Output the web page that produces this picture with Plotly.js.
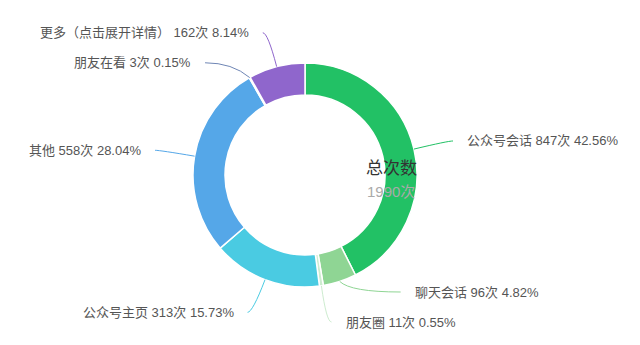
<!DOCTYPE html>
<html><head><meta charset="utf-8">
<script src="https://cdn.plot.ly/plotly-3.0.1.min.js"></script>
<style>html,body{margin:0;padding:0;background:#fff}#chart{width:640px;height:345px}</style>
</head><body><div id="chart"></div>
<script>
// ---- data ----
const categories = ['公众号会话', '聊天会话', '朋友圈', '公众号主页', '其他', '朋友在看', '更多（点击展开详情）'];
const counts = [847, 96, 11, 313, 558, 3, 162];
const unit = '次';
const centerTitle = '总次数';
const colors = ['#22c165', '#8fd594', '#cdeccf', '#4acbe2', '#55a7e8', '#6f86b5', '#8f66cc'];

// ---- geometry (layout constants, px) ----
const W = 640, H = 345;
const cx = 305, cy = 175, R = 112, R0 = 80;
const len1 = 35, len2 = 5, gap = 12, lineH = 30, minY = 15, maxY = 322;
const FONT = 'Liberation Sans, Noto Sans CJK SC, sans-serif';

const total = counts.reduce((a, b) => a + b, 0);
let acc = 0;
const items = counts.map((v, i) => {
  const mid = (acc + v / 2) / total * 2 * Math.PI; acc += v;
  const ux = Math.sin(mid), uy = -Math.cos(mid);
  const dir = ux < 0 ? -1 : 1;
  const p0 = [cx + R * ux, cy + R * uy];
  const p1 = [cx + (R + len1) * ux, cy + (R + len1) * uy];
  return { i, dir, p0, p1, y: p1[1], x: p1[0] + dir * len2 };
});

function recalcX(list, dir) {
  const rA = R + len1;
  const semis = [{ list: [], maxY: 0, rB: rA }, { list: [], maxY: 0, rB: rA }];
  list.forEach(it => {
    const semi = it.y > cy ? semis[1] : semis[0];
    const d = Math.abs(it.y - cy);
    if (d >= semi.maxY) {
      const ddx = it.x - cx - len2 * dir;
      semi.rB = Math.abs(ddx) < rA ? Math.sqrt(d * d / (1 - ddx * ddx / rA / rA)) : rA;
      semi.maxY = d;
    }
    semi.list.push(it);
  });
  semis.forEach(s => s.list.forEach(it => {
    const d = Math.abs(it.y - cy);
    const ddx = Math.sqrt(Math.max(0, 1 - d * d / (s.rB * s.rB))) * rA;
    it.x = cx + (ddx + len2) * dir;
  }));
}
function adjustSide(list, dir) {
  if (list.length < 2) return;
  list.sort((a, b) => a.y - b.y);
  let shifted = false;
  const n = list.length;
  for (let k = 1; k < n; k++) {
    if (list[k].y < list[k - 1].y + lineH) { list[k].y = list[k - 1].y + lineH; shifted = true; }
  }
  if (list[n - 1].y > maxY) {
    list[n - 1].y = maxY; shifted = true;
    for (let k = n - 2; k >= 0; k--) if (list[k].y > list[k + 1].y - lineH) list[k].y = list[k + 1].y - lineH;
  }
  if (list[0].y < minY) {
    list[0].y = minY; shifted = true;
    for (let k = 1; k < n; k++) if (list[k].y < list[k - 1].y + lineH) list[k].y = list[k - 1].y + lineH;
  }
  if (shifted) recalcX(list, dir);
}
adjustSide(items.filter(it => it.dir > 0), 1);
adjustSide(items.filter(it => it.dir < 0), -1);

const shapes = items.map(it => ({
  type: 'path', xref: 'x', yref: 'y', layer: 'above',
  path: `M ${it.p0[0]} ${it.p0[1]} Q ${it.p1[0]} ${it.y} ${it.x} ${it.y}`,
  line: { color: colors[it.i], width: 1 }
}));

const annotations = items.map(it => ({
  xref: 'x', yref: 'y', x: it.x + it.dir * gap, y: it.y,
  xanchor: it.dir > 0 ? 'left' : 'right', yanchor: 'middle', showarrow: false,
  text: `${categories[it.i]} ${counts[it.i]}${unit} ${(counts[it.i] / total * 100).toFixed(2)}%`,
  font: { family: FONT, size: 13, color: '#555' }
}));
annotations.push({
  xref: 'x', yref: 'y', x: 364, y: 168, xanchor: 'left', yanchor: 'middle', showarrow: false,
  text: centerTitle, font: { family: FONT, size: 17, color: '#333' }
});
annotations.push({
  xref: 'x', yref: 'y', x: 365, y: 191, xanchor: 'left', yanchor: 'middle', showarrow: false,
  text: `${total}${unit}`, font: { family: FONT, size: 15, color: '#aaa' }
});

const trace = {
  type: 'pie', labels: categories, values: counts, sort: false,
  direction: 'clockwise', rotation: 0, hole: R0 / R,
  marker: { colors: colors, line: { color: '#fff', width: 1.5 } },
  textinfo: 'none', hoverinfo: 'none', showlegend: false,
  domain: { x: [(cx - R) / W, (cx + R) / W], y: [1 - (cy + R) / H, 1 - (cy - R) / H] }
};

Plotly.newPlot('chart', [trace], {
  width: W, height: H, margin: { l: 0, r: 0, t: 0, b: 0 },
  paper_bgcolor: '#fff', plot_bgcolor: 'rgba(0,0,0,0)', showlegend: false,
  xaxis: { range: [0, W], visible: false, fixedrange: true },
  yaxis: { range: [H, 0], visible: false, fixedrange: true },
  shapes, annotations
}, { displayModeBar: false, staticPlot: true });
</script></body></html>
